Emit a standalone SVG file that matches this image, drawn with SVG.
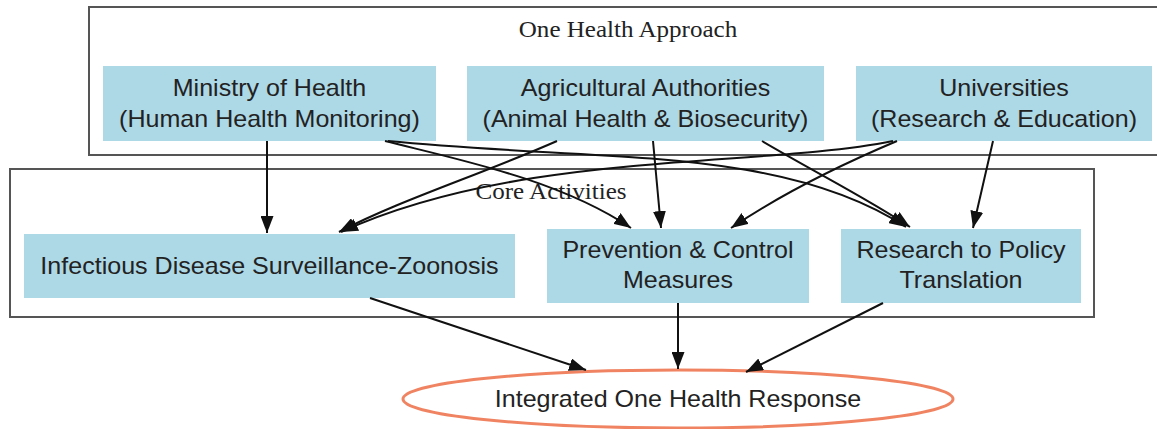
<svg xmlns="http://www.w3.org/2000/svg" width="1157" height="429" viewBox="0 0 1157 429">
  <style>
    .cluster { fill: #ffffff; stroke: #555555; stroke-width: 2; }
    .node rect { fill: #add8e6; stroke: none; }
    .resp ellipse { fill: #ffffff; stroke: #f08462; stroke-width: 3; }
    text { fill: #222222; text-anchor: middle; transform-box: fill-box; transform-origin: center; transform: scaleX(1.09); }
    .lbl { font-family: "Liberation Sans", Arial, sans-serif; font-size: 23px; }
    .ctitle { font-family: "Liberation Serif", "Times New Roman", serif; font-size: 23px; }
    #edges path { fill: none; stroke: #111111; stroke-width: 2; marker-end: url(#arrow); }
  </style>
  <defs>
    <marker id="arrow" markerUnits="userSpaceOnUse" markerWidth="17" markerHeight="13" refX="17" refY="6.5" orient="auto">
      <path d="M0,0 L17,6.5 L0,13 Z" fill="#111111"/>
    </marker>
  </defs>

  <rect width="1157" height="429" fill="#ffffff"/>

  <!-- cluster: One Health Approach -->
  <g id="cluster-onehealth">
    <rect class="cluster" x="89" y="7" width="1075" height="148"/>
    <text class="ctitle" x="628" y="37">One Health Approach</text>
  </g>

  <!-- cluster: Core Activities -->
  <g id="cluster-core">
    <rect class="cluster" x="10" y="169" width="1084" height="148"/>
    <text class="ctitle" x="551" y="199">Core Activities</text>
  </g>

  <!-- agency nodes -->
  <g id="moh" class="node">
    <rect x="103" y="66" width="333" height="75"/>
    <text class="lbl" x="269.5" y="96">Ministry of Health</text>
    <text class="lbl" x="269.5" y="127">(Human Health Monitoring)</text>
  </g>
  <g id="agri" class="node">
    <rect x="467" y="66" width="357" height="75"/>
    <text class="lbl" x="645.5" y="96">Agricultural Authorities</text>
    <text class="lbl" x="645.5" y="127">(Animal Health &amp; Biosecurity)</text>
  </g>
  <g id="univ" class="node">
    <rect x="856" y="66" width="296" height="75"/>
    <text class="lbl" x="1004" y="96">Universities</text>
    <text class="lbl" x="1004" y="127">(Research &amp; Education)</text>
  </g>

  <!-- activity nodes -->
  <g id="surveillance" class="node">
    <rect x="24" y="234" width="491" height="64"/>
    <text class="lbl" x="269.5" y="274">Infectious Disease Surveillance-Zoonosis</text>
  </g>
  <g id="prevention" class="node">
    <rect x="547" y="229" width="262" height="74"/>
    <text class="lbl" x="678" y="258">Prevention &amp; Control</text>
    <text class="lbl" x="678" y="288">Measures</text>
  </g>
  <g id="research" class="node">
    <rect x="841" y="229" width="240" height="74"/>
    <text class="lbl" x="961" y="258">Research to Policy</text>
    <text class="lbl" x="961" y="288">Translation</text>
  </g>

  <!-- outcome node -->
  <g id="response" class="resp">
    <ellipse cx="678" cy="399" rx="275" ry="29"/>
    <text class="lbl" x="678" y="407">Integrated One Health Response</text>
  </g>

  <!-- connectors -->
  <g id="edges">
    <path d="M267,141 L267,233"/>
    <path d="M385,141 C460,160 560,180 631,228"/>
    <path d="M388,141 C600,162 780,145 906,227"/>
    <path d="M557,141 C480,175 400,200 339,232"/>
    <path d="M653,141 L661,228"/>
    <path d="M762,141 C820,175 870,200 910,227"/>
    <path d="M893,141 C760,168 520,150 341,232"/>
    <path d="M897,141 C840,165 780,195 731,228"/>
    <path d="M993,141 L973,228"/>
    <path d="M370,298 L586,370"/>
    <path d="M678,303 L678,369"/>
    <path d="M883,303 L746,372"/>
  </g>
</svg>
